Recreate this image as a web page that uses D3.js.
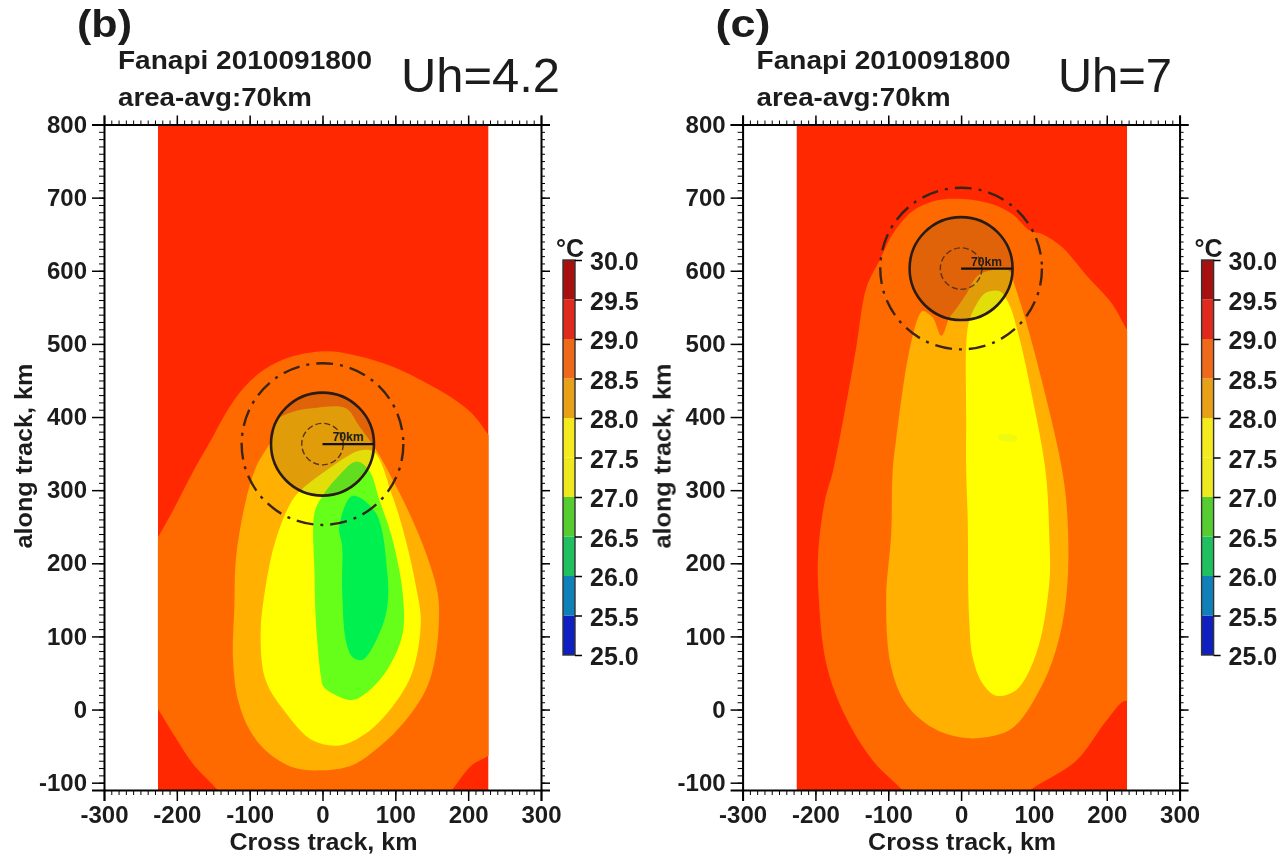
<!DOCTYPE html>
<html>
<head>
<meta charset="utf-8">
<style>
  body { margin: 0; background: #fff; }
  svg { display: block; filter: blur(0.55px); }
  text { font-family: "Liberation Sans", Arial, sans-serif; fill: #1c1c1c; }
  .tick-label { font-size: 24px; font-weight: bold; }
  .bar-label { font-size: 25px; font-weight: bold; }
</style>
<script src="https://cdn.jsdelivr.net/npm/d3@7"></script>
</head>
<body>
<div id="chart"></div>
<script>
/* tick values and labels */
var xTicks = [-300, -200, -100, 0, 100, 200, 300];
var yTicks = [-100, 0, 100, 200, 300, 400, 500, 600, 700, 800];
var barTicks = [25, 25.5, 26, 26.5, 27, 27.5, 28, 28.5, 29, 29.5, 30];

/* colorbar cells, bottom to top */
var barLevels = [25, 25.5, 26, 26.5, 27, 27.5, 28, 28.5, 29, 29.5];
var barColors = ["#1020c0", "#1080b8", "#20c060", "#55cc30", "#eee81e", "#f5ea1e", "#e8a018", "#ee6a1a", "#e02a1e", "#a81010"];

/* extent of the sst field, km */
var fieldX = [-226, 228];
var fieldY = [-110, 800];
var fieldColor = "#ff2800";

/* contour fill colours */
var orangeColor = "#ff6a00";
var amberColor = "#ffb000";
var yellowColor = "#ffff00";
var limeColor = "#66ff1a";
var greenColor = "#00f050";
var speckColor = "#eefa10";

/* panel b contours, [cross track km, along track km] */
var orangeB = [[-245, 205], [-228, 232], [-205, 273], [-178, 325], [-155, 365], [-130, 410], [-108, 440], [-80, 465], [-41, 483], [9, 490], [50, 483], [96, 469], [142, 447], [175, 428], [205, 405], [226, 378], [245, 350], [245, -50], [228, -63], [205, -76], [178, -110], [160, -135], [-125, -135], [-144, -110], [-178, -74], [-202, -38], [-228, 4], [-245, 28]];
var amberB = [[-64, 395], [-41, 407], [-14, 412], [32, 412], [50, 388], [73, 356], [96, 315], [119, 269], [142, 214], [158, 160], [160, 127], [155, 72], [142, 27], [114, -15], [78, -51], [41, -76], [0, -83], [-41, -79], [-78, -56], [-100, -28], [-116, 13], [-123, 72], [-121, 141], [-119, 205], [-105, 287], [-91, 332], [-68, 373]];
var yellowB = [[50, 354], [71, 352], [96, 292], [114, 233], [130, 160], [135, 119], [123, 50], [96, 4], [59, -33], [23, -49], [-14, -42], [-50, -5], [-78, 40], [-85, 104], [-78, 169], [-64, 233], [-41, 287], [-23, 306], [5, 327], [32, 345]];
var limeB = [[46, 339], [64, 327], [78, 287], [96, 233], [110, 160], [110, 104], [91, 58], [64, 26], [41, 13], [14, 22], [1, 32], [-2, 45], [-9, 119], [-11, 187], [-11, 269], [0, 292], [18, 315]];
var greenB = [[41, 292], [73, 269], [89, 187], [89, 141], [78, 104], [55, 68], [41, 72], [32, 95], [27, 164], [27, 223], [23, 250]];

/* panel c contours */
var orangeC = [[-176, 326], [-158, 417], [-144, 495], [-130, 577], [-112, 614], [-94, 650], [-66, 682], [-34, 696], [2, 698], [43, 691], [71, 677], [94, 655], [112, 650], [139, 632], [171, 595], [208, 554], [226, 522], [245, 490], [245, -5], [226, 12], [199, -16], [158, -70], [94, -111], [70, -135], [-60, -135], [-80, -111], [-121, -70], [-158, -11], [-185, 62], [-196, 163], [-196, 217], [-187, 286]];
var amberC = [[25, 595], [66, 600], [73, 582], [89, 531], [112, 445], [139, 326], [146, 263], [146, 172], [135, 99], [112, 35], [71, -25], [34, -38], [-2, -38], [-39, -25], [-75, 7], [-96, 58], [-103, 149], [-96, 240], [-94, 326], [-89, 371], [-73, 481], [-59, 536], [-53, 545], [-39, 536], [-27, 511], [-16, 536], [-9, 545], [7, 568]];
var yellowC = [[116, 326], [98, 426], [80, 508], [66, 554], [53, 572], [34, 570], [21, 554], [11, 531], [7, 499], [7, 400], [7, 326], [9, 263], [11, 126], [16, 71], [30, 35], [48, 19], [75, 26], [103, 76], [121, 172], [121, 240]];
var speckC = [[52, 376], [76, 374], [76, 368], [52, 369]];

/* storm circles, km */
var centerB = [0, 363];
var centerC = [0, 603];
var circleRadii = { inner: 28.5, solid: 70.7, outer: 111 };

var width = 1286,
    height = 857;

var svg = d3.select("#chart").append("svg")
    .attr("width", width)
    .attr("height", height);

// the reference uses hyphens on the negative labels
function tickText(d) {
    return String(d);
}

function drawPanel(opts) {
    var x = d3.scaleLinear().domain([-300, 300]).range([opts.left, opts.left + 437]);
    var y = d3.scaleLinear().domain([-110, 800]).range([790, 124.5]);
    var g = svg.append("g");

    g.append("clipPath").attr("id", "clip" + opts.name)
        .append("rect")
        .attr("x", x(fieldX[0]))
        .attr("y", y(fieldY[1]))
        .attr("width", x(fieldX[1]) - x(fieldX[0]))
        .attr("height", y(fieldY[0]) - y(fieldY[1]));

    var map = g.append("g").attr("clip-path", "url(#clip" + opts.name + ")");

    map.append("rect")
        .attr("x", x(fieldX[0]))
        .attr("y", y(fieldY[1]))
        .attr("width", x(fieldX[1]) - x(fieldX[0]))
        .attr("height", y(fieldY[0]) - y(fieldY[1]))
        .attr("fill", fieldColor);

    var contour = d3.line()
        .x(function(d) { return x(d[0]); })
        .y(function(d) { return y(d[1]); })
        .curve(d3.curveCatmullRomClosed.alpha(0.5));

    opts.contours.forEach(function(c) {
        map.append("path").attr("d", contour(c.points)).attr("fill", c.color);
    });

    // the circles, the 70km one is shaded
    var cx = x(opts.center[0]),
        cy = y(opts.center[1]),
        kmToPx = x(1) - x(0);

    g.append("circle").attr("cx", cx).attr("cy", cy).attr("r", circleRadii.solid * kmToPx)
        .attr("fill", "#5a4a30").attr("fill-opacity", 0.18)
        .attr("stroke", "#2a1c14").attr("stroke-width", 2.6);
    g.append("circle").attr("cx", cx).attr("cy", cy).attr("r", circleRadii.outer * kmToPx)
        .attr("fill", "none").attr("stroke", "#3a2414").attr("stroke-width", 2.4)
        .attr("stroke-dasharray", "17 7 3 7");
    g.append("circle").attr("cx", cx).attr("cy", cy).attr("r", circleRadii.inner * kmToPx)
        .attr("fill", "none").attr("stroke", "#5a3414").attr("stroke-width", 1.4)
        .attr("stroke-dasharray", "6 3");
    g.append("line").attr("x1", cx).attr("y1", cy).attr("x2", x(opts.center[0] + 70)).attr("y2", cy)
        .attr("stroke", "#111").attr("stroke-width", 2.2);
    g.append("text").attr("x", cx + 10).attr("y", cy - 3)
        .attr("textLength", 31).attr("lengthAdjust", "spacingAndGlyphs")
        .style("font-size", "12px").style("font-weight", "bold")
        .text("70km");

    // frame with minor ticks every 10 km
    var xMinor = d3.range(-300, 301, 10);
    var yMinor = d3.range(-110, 801, 10);
    function frame(axis, pos, isX) {
        var a = g.append("g").attr("transform", isX ? "translate(0," + pos + ")" : "translate(" + pos + ",0)");
        a.call(axis.minor);
        a.selectAll("text").remove();
        var b = g.append("g").attr("transform", isX ? "translate(0," + pos + ")" : "translate(" + pos + ",0)");
        b.call(axis.major);
        b.select(".domain").attr("stroke-width", 2);
        b.selectAll("line").attr("stroke-width", 1.5);
        return b;
    }

    var bottom = frame({
        minor: d3.axisBottom(x).tickValues(xMinor).tickSize(5).tickFormat(""),
        major: d3.axisBottom(x).tickValues(xTicks).tickSize(11).tickPadding(5).tickFormat(tickText)
    }, 790, true);
    var left = frame({
        minor: d3.axisLeft(y).tickValues(yMinor).tickSize(5).tickFormat(""),
        major: d3.axisLeft(y).tickValues(yTicks).tickSize(12).tickPadding(5).tickFormat(tickText)
    }, x(-300), false);
    frame({
        minor: d3.axisTop(x).tickValues(xMinor).tickSize(4).tickFormat(""),
        major: d3.axisTop(x).tickValues(xTicks).tickSize(9).tickFormat("")
    }, 124.5, true);
    frame({
        minor: d3.axisRight(y).tickValues(yMinor).tickSize(4).tickFormat(""),
        major: d3.axisRight(y).tickValues(yTicks).tickSize(9).tickFormat("")
    }, x(300), false);

    bottom.selectAll("text").attr("class", "tick-label");
    left.selectAll("text").attr("class", "tick-label");

    g.append("text")
        .attr("x", x(0) + 1).attr("y", 850)
        .attr("text-anchor", "middle")
        .attr("textLength", 188).attr("lengthAdjust", "spacingAndGlyphs")
        .style("font-size", "23px").style("font-weight", "bold")
        .text("Cross track, km");
    g.append("text")
        .attr("transform", "translate(" + (opts.left - 72) + ",456) rotate(-90)")
        .attr("text-anchor", "middle")
        .attr("textLength", 185).attr("lengthAdjust", "spacingAndGlyphs")
        .style("font-size", "23px").style("font-weight", "bold")
        .text("along track, km");

    // titles
    g.append("text").attr("x", opts.left - 27).attr("y", 37)
        .attr("textLength", 55).attr("lengthAdjust", "spacingAndGlyphs")
        .style("font-size", "38px").style("font-weight", "bold").text(opts.tag);
    g.append("text").attr("x", opts.left + 14).attr("y", 69)
        .attr("textLength", 254).attr("lengthAdjust", "spacingAndGlyphs")
        .style("font-size", "25px").style("font-weight", "bold").text("Fanapi 2010091800");
    g.append("text").attr("x", opts.left + 14).attr("y", 106)
        .attr("textLength", 194).attr("lengthAdjust", "spacingAndGlyphs")
        .style("font-size", "25px").style("font-weight", "bold").text("area-avg:70km");
    g.append("text").attr("x", opts.uhX).attr("y", 92)
        .attr("textLength", opts.uhWidth).attr("lengthAdjust", "spacingAndGlyphs")
        .style("font-size", "48px").text(opts.uh);

    // colorbar
    var barY = d3.scaleLinear().domain([25, 30]).range([655, 260]);
    var barX = opts.left + 459;
    var barWidth = 12;
    g.selectAll(".cell").data(barLevels).enter().append("rect")
        .attr("class", "cell")
        .attr("x", barX)
        .attr("y", function(d) { return barY(d + 0.5); })
        .attr("width", barWidth)
        .attr("height", function(d) { return barY(d) - barY(d + 0.5); })
        .attr("fill", function(d, i) { return barColors[i]; });
    g.append("rect").attr("x", barX).attr("y", 260).attr("width", barWidth).attr("height", 395)
        .attr("fill", "none").attr("stroke", "#333").attr("stroke-width", 1.4);

    var barAxis = g.append("g").attr("transform", "translate(" + (barX + barWidth) + ",0)")
        .call(d3.axisRight(barY).tickValues(barTicks).tickSize(7).tickPadding(8).tickFormat(d3.format(".1f")));
    barAxis.select(".domain").remove();
    barAxis.selectAll("line").attr("stroke-width", 1.5);
    barAxis.selectAll("text").attr("class", "bar-label").attr("dy", "0.38em");

    g.append("text").attr("x", barX - 7).attr("y", 257)
        .style("font-size", "25px").style("font-weight", "bold").text("°C");
}

drawPanel({
    name: "b", tag: "(b)", left: 104, center: centerB, uh: "Uh=4.2", uhX: 401, uhWidth: 159,
    contours: [
        { points: orangeB, color: orangeColor },
        { points: amberB, color: amberColor },
        { points: yellowB, color: yellowColor },
        { points: limeB, color: limeColor },
        { points: greenB, color: greenColor }
    ]
});

drawPanel({
    name: "c", tag: "(c)", left: 742.6, center: centerC, uh: "Uh=7", uhX: 1058, uhWidth: 114,
    contours: [
        { points: orangeC, color: orangeColor },
        { points: amberC, color: amberColor },
        { points: yellowC, color: yellowColor },
        { points: speckC, color: speckColor }
    ]
});
</script>
</body>
</html>
